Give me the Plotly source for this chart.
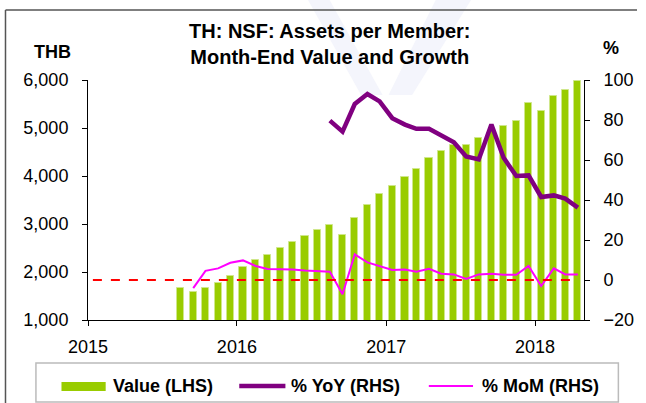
import pandas as pd
import plotly.graph_objects as go

# ---- data ----
months = pd.date_range("2015-08-01", "2018-04-01", freq="MS") + pd.Timedelta(days=15)
value_lhs = [1659, 1589, 1659, 1763, 1908, 2095, 2241, 2358, 2490, 2615, 2746, 2871,
             2975, 2774, 3121, 3391, 3620, 3786, 3987, 4146, 4382, 4520, 4645, 4652,
             4784, 4930, 5033, 5151, 5518, 5345, 5663, 5802, 5969]
yoy_rhs = [None] * 12 + [79.7, 74.2, 88.0, 93.0, 89.3, 80.9, 77.7, 75.6, 75.6, 72.2,
                         68.9, 61.8, 60.3, 77.7, 61.1, 52.0, 52.3, 41.5, 42.3, 40.7, 36.2]
mom_rhs = [None] + [-4.1, 4.6, 5.8, 8.6, 9.8, 7.0, 5.5, 5.5, 5.3, 4.8, 4.6, 4.1, -7.1,
                    12.8, 8.8, 6.8, 5.0, 5.3, 4.1, 5.6, 3.1, 2.8, 0.5, 2.8, 3.1, 2.6,
                    2.6, 7.0, -3.0, 5.8, 2.8, 2.8]
zero_x = ["2015-01-13", "2018-04-16"]
zero_y = [0, 0]
year_ticks = ["2015-01-01", "2016-01-01", "2017-01-01", "2018-01-01"]
year_labels = ["2015", "2016", "2017", "2018"]
series_names = ["Value (LHS)", "% YoY (RHS)", "% MoM (RHS)"]

FONT = "Liberation Sans, Arial, sans-serif"
GREEN = "#99CC00"
PURPLE = "#800080"
MAGENTA = "#FF00FF"

fig = go.Figure()
fig.add_trace(go.Bar(x=months, y=value_lhs, name=series_names[0], showlegend=False,
                     marker=dict(color=GREEN, line=dict(color="#cfe78a", width=1)),
                     width=17.5 * 86400000, yaxis="y"))
fig.add_trace(go.Scatter(x=months, y=yoy_rhs, mode="lines", name=series_names[1],
                         showlegend=False, line=dict(color=PURPLE, width=4.5), yaxis="y2"))
fig.add_trace(go.Scatter(x=months, y=mom_rhs, mode="lines", name=series_names[2],
                         showlegend=False, line=dict(color=MAGENTA, width=2), yaxis="y2"))
fig.add_trace(go.Scatter(x=zero_x, y=zero_y, mode="lines", showlegend=False,
                         line=dict(color="#FF0000", width=2, dash="dash"), yaxis="y2"))

L, R, T, B = 88, 53, 80, 83
W, H = 646, 403
pw, ph = W - L - R, H - T - B


def px(x):
    return (x - L) / pw


def py(y):
    return (H - B - y) / ph


axis_common = dict(showline=True, linecolor="black", linewidth=1, ticks="outside",
                   ticklen=5, tickcolor="black", showgrid=False, zeroline=False,
                   tickfont=dict(family=FONT, size=18, color="black"))

fig.update_layout(
    width=W, height=H,
    margin=dict(l=L, r=R, t=T, b=B),
    paper_bgcolor="white", plot_bgcolor="white",
    bargap=0,
    showlegend=False,
    xaxis=dict(type="date", range=["2015-01-01", "2018-05-01"], tickvals=year_ticks,
               ticktext=year_labels, ticklabelstandoff=5, **axis_common),
    yaxis=dict(range=[1000, 6000], dtick=1000, tickformat=",", ticklabelstandoff=10,
               **axis_common),
    yaxis2=dict(range=[-20, 100], dtick=20, overlaying="y", side="right",
                ticklabelstandoff=10, **axis_common),
)

# faint background watermark
fig.add_shape(type="path", xref="paper", yref="paper", layer="below",
              path=f"M {px(312)},{py(0)} L {px(334)},{py(0)} L {px(388)},{py(95)} "
                   f"L {px(366)},{py(95)} Z",
              fillcolor="#f4f5fc", line=dict(width=0))
fig.add_shape(type="path", xref="paper", yref="paper", layer="below",
              path=f"M {px(442)},{py(0)} L {px(478)},{py(0)} L {px(418)},{py(95)} "
                   f"L {px(394)},{py(95)} Z",
              fillcolor="#f4f5fc", line=dict(width=0))

fig.add_annotation(text="<b>TH: NSF: Assets per Member:<br>Month-End Value and Growth</b>",
                   x=px(334), y=py(44), xref="paper", yref="paper", showarrow=False,
                   xanchor="center", yanchor="middle",
                   font=dict(family=FONT, size=20, color="black"))
fig.add_annotation(text="<b>THB</b>", x=px(52), y=py(52), xref="paper", yref="paper",
                   showarrow=False, xanchor="center", yanchor="middle",
                   font=dict(family=FONT, size=18, color="black"))
fig.add_annotation(text="<b>%</b>", x=px(620), y=py(48), xref="paper", yref="paper",
                   showarrow=False, xanchor="center", yanchor="middle",
                   font=dict(family=FONT, size=18, color="black"))

# outer frame (left and top edges visible)
fig.add_shape(type="line", xref="paper", yref="paper", x0=px(4), x1=px(4),
              y0=py(10), y1=py(404), line=dict(color="#555555", width=1.5))
fig.add_shape(type="line", xref="paper", yref="paper", x0=px(4), x1=px(647),
              y0=py(10), y1=py(10), line=dict(color="#555555", width=1.5))
# legend box
fig.add_shape(type="rect", xref="paper", yref="paper", x0=px(35), x1=px(628),
              y0=py(402), y1=py(363), line=dict(color="#bbbbbb", width=1.5))

# legend entries (swatches + labels)
ly = 386
fig.add_shape(type="rect", xref="paper", yref="paper", x0=px(61), x1=px(106),
              y0=py(391), y1=py(382), fillcolor=GREEN, line=dict(width=0))
fig.add_shape(type="line", xref="paper", yref="paper", x0=px(242), x1=px(289),
              y0=py(ly), y1=py(ly), line=dict(color=PURPLE, width=4.5))
fig.add_shape(type="line", xref="paper", yref="paper", x0=px(435), x1=px(480),
              y0=py(ly), y1=py(ly), line=dict(color=MAGENTA, width=2))
for name, xx in zip(series_names, [111, 293, 487]):
    fig.add_annotation(text=f"<b>{name}</b>", x=px(xx), y=py(ly), xref="paper",
                       yref="paper", showarrow=False, xanchor="left", yanchor="middle",
                       font=dict(family=FONT, size=18, color="black"))

fig.write_html("out.html")
